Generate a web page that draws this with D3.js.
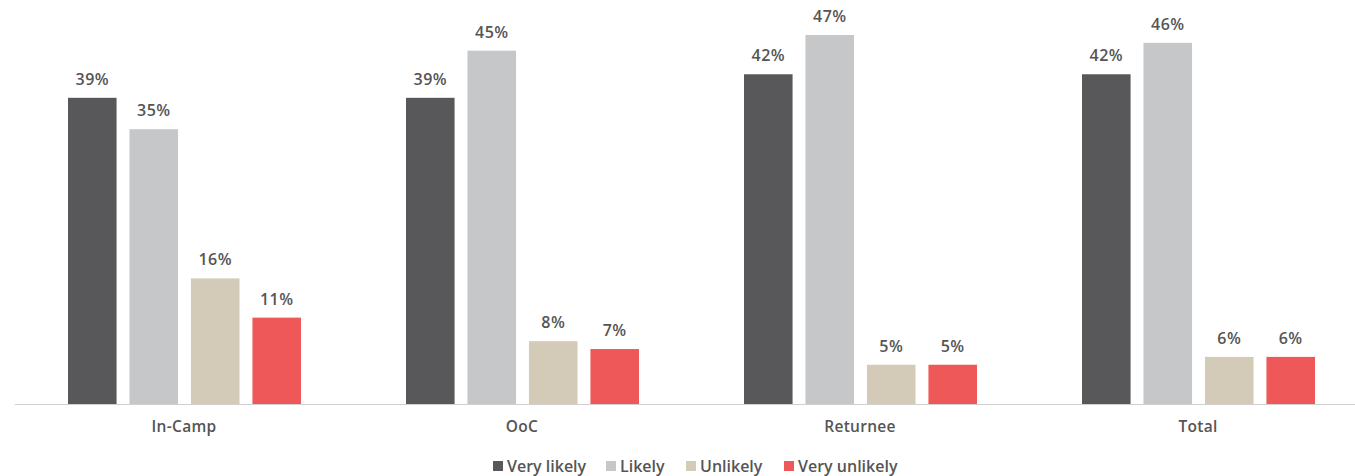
<!DOCTYPE html>
<html><head><meta charset="utf-8">
<script src="https://cdn.jsdelivr.net/npm/d3@7"></script>
<style>body{margin:0;background:#fff}svg{display:block}text{font-family:"Open Sans","Noto Sans",sans-serif}</style>
</head><body>
<svg id="c" width="1355" height="476"></svg>
<script>
const categories = ["In-Camp", "OoC", "Returnee", "Total"];
const seriesNames = ["Very likely", "Likely", "Unlikely", "Very unlikely"];
const veryLikely = [39, 39, 42, 42];
const likely = [35, 45, 47, 46];
const unlikely = [16, 8, 5, 6];
const veryUnlikely = [11, 7, 5, 6];
const colors = ["#58585a", "#c6c7c9", "#d3cbb8", "#ef5859"];
const seriesValues = [veryLikely, likely, unlikely, veryUnlikely];

const svg = d3.select("#c");
const x0 = d3.scaleBand().domain(categories).range([15, 1367]).paddingInner(0).paddingOuter(0);
const x1 = d3.scaleBand().domain(seriesNames).range([53, 286]).paddingInner(0.21).paddingOuter(0);
const y = d3.scaleLinear().domain([0, 47]).range([404, 35]);

const g = svg.append("g");
categories.forEach((cat, ci) => {
  const gg = g.append("g").attr("transform", `translate(${x0(cat)},0)`);
  seriesNames.forEach((s, si) => {
    const v = seriesValues[si][ci];
    gg.append("rect").attr("x", x1(s)).attr("width", x1.bandwidth())
      .attr("y", y(v)).attr("height", y(0) - y(v)).attr("fill", colors[si]);
    gg.append("text").attr("x", x1(s) + x1.bandwidth() / 2).attr("y", y(v) - 13)
      .attr("text-anchor", "middle").attr("font-size", 16).attr("font-weight", 600)
      .attr("letter-spacing", 0.4).attr("fill", "#555").text(v + "%");
  });
});

const axis = svg.append("g").attr("transform", "translate(0,404)")
  .call(d3.axisBottom(x0).tickSize(0).tickPadding(17));
axis.select(".domain").attr("stroke", "#d0d0d0").attr("stroke-width", 1.2).attr("d", "M15,0.5H1355");
axis.selectAll("text").attr("font-size", 15.5).attr("font-weight", 600).attr("fill", "#555")
  .attr("letter-spacing", 0.3).attr("font-family", "'Open Sans','Noto Sans',sans-serif");

const legendX = [493, 606, 686, 784];
const leg = svg.append("g");
seriesNames.forEach((s, i) => {
  leg.append("rect").attr("x", legendX[i]).attr("y", 461).attr("width", 10).attr("height", 10).attr("fill", colors[i]);
  leg.append("text").attr("x", legendX[i] + 14).attr("y", 472).attr("font-size", 16).attr("font-weight", 600)
    .attr("fill", "#555").text(s);
});
</script>
</body></html>
